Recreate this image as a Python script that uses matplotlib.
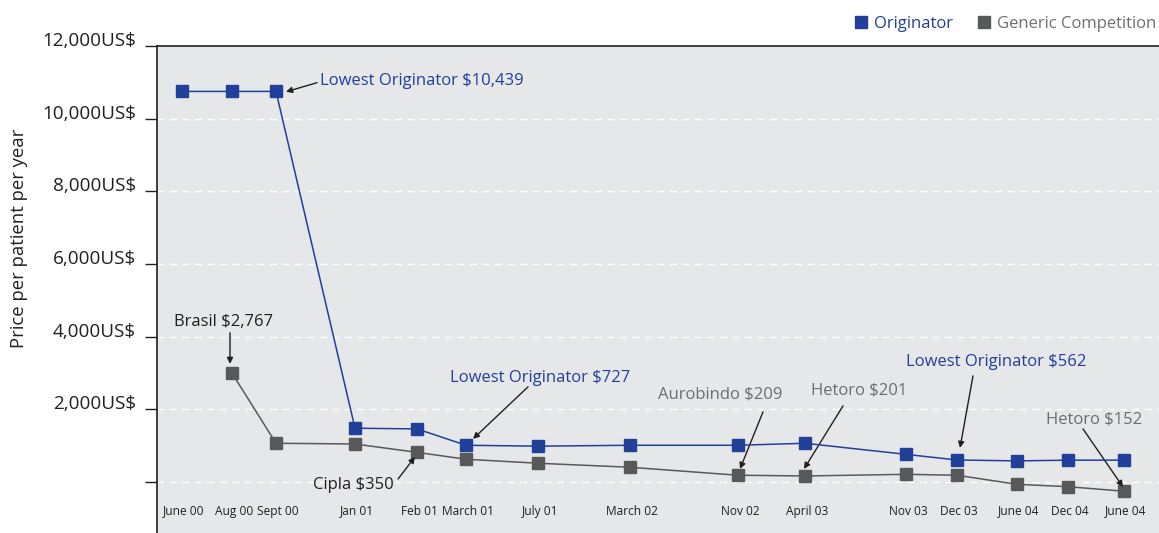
import matplotlib.pyplot as plt
from matplotlib.lines import Line2D

plt.rcParams['font.family'] = ['Open Sans', 'DejaVu Sans']

# categories and their horizontal placement on the original chart
dates = ['June 00', 'Aug 00', 'Sept 00', 'Jan 01', 'Feb 01', 'March 01', 'July 01',
         'March 02', 'Nov 02', 'April 03', 'Nov 03', 'Dec 03', 'June 04', 'Dec 04', 'June 04']
xpos = [182, 232, 276, 355, 417, 466, 538, 630, 738, 805, 906, 957, 1017, 1068, 1124]

# price per patient per year (US$)
originator = [10750, 10750, 10750, 1480, 1460, 1010, 985, 1010, 1010, 1065, 760, 605, 580, 600, 600]
generic = [None, 2995, 1065, 1045, 815, 625, 515, 405, 185, 165, 210, 185, -65, -130, -255]

yticks = [0, 2000, 4000, 6000, 8000, 10000, 12000]
ytick_labels = ['', '2,000US$', '4,000US$', '6,000US$', '8,000US$', '10,000US$', '12,000US$']

blue = '#21409a'
dgray = '#58595b'
tgray = '#6d6e71'
dark = '#231f20'

fig = plt.figure(figsize=(11.59, 5.33), dpi=100)
ax = fig.add_axes([157 / 1159, 0, 1 - 157 / 1159, (533 - 46) / 533])
ax.set_facecolor('#e6e7e8')

ax.set_xlim(157, 1159)
ax.set_ylim(-1405, 12000)

for y in yticks[:-1]:
    ax.axhline(y, color='white', lw=1, ls=(0, (5, 4)), zorder=1)

gx = [x for x, v in zip(xpos, generic) if v is not None]
gy = [v for v in generic if v is not None]
ax.plot(gx, gy, color=dgray, lw=1.1, marker='s', ms=9, mec=dgray, zorder=3)
ax.plot(xpos, originator, color=blue, lw=1.1, marker='s', ms=9, mec=blue, zorder=4)

ax.set_xticks([])
for x, d in zip(xpos, dates):
    ax.text(x + 2, -800, d, ha='center', va='center', fontsize=8.6, color=dark)

ax.set_yticks(yticks, ytick_labels)
ax.tick_params(axis='y', length=9, width=1, pad=6, labelsize=13.6, labelcolor=dark, color=dark)
for lab in ax.get_yticklabels():
    lab.set_va('baseline')

for side in ['right', 'bottom']:
    ax.spines[side].set_visible(False)
ax.spines['left'].set_color(dark)
ax.spines['top'].set_color(dark)
ax.spines['left'].set_linewidth(1.2)
ax.spines['top'].set_linewidth(1.2)

fig.text(19 / 1159, 1 - 238 / 533, 'Price per patient per year', rotation=90,
         ha='center', va='center', fontsize=13.3, color=dark)

arrow = dict(arrowstyle='-|>', color=dark, lw=1, mutation_scale=9, shrinkA=0, shrinkB=0)
notes = [
    ('Lowest Originator $10,439', (286, 10740), (320, 11047), 'left', blue),
    ('Brasil $2,767', (230, 3250), (224, 4408), 'center', dark),
    ('Cipla $350', (415, 690), (353, -83), 'center', dark),
    ('Lowest Originator $727', (473, 1185), (540, 2865), 'center', blue),
    ('Aurobindo $209', (740, 358), (720, 2397), 'center', tgray),
    ('Hetoro $201', (804, 358), (859, 2507), 'center', tgray),
    ('Lowest Originator $562', (960, 937), (996, 3306), 'center', blue),
    ('Hetoro $152', (1123, -138), (1094, 1708), 'center', tgray),
]
tails = [(317, 10990), (230, 4105), (398, 80), (528, 2617), (763, 1928), (843, 2094),
         (973, 2920), (1083, 1460)]
for (txt, tip, tpos, ha, col), tail in zip(notes, tails):
    ax.text(tpos[0], tpos[1], txt, ha=ha, va='center', fontsize=12, color=col)
    ax.annotate('', xy=tip, xytext=tail, arrowprops=arrow)

handles = [Line2D([], [], ls='', marker='s', ms=9, color=blue),
           Line2D([], [], ls='', marker='s', ms=9, color=dgray)]
leg = fig.legend(handles, ['Originator', 'Generic Competition'], loc='upper right',
                 bbox_to_anchor=(1.011, 0.998), ncol=2, frameon=False, fontsize=12,
                 handlelength=0.8, handletextpad=0.4, columnspacing=1.45)
for t, c in zip(leg.get_texts(), [blue, tgray]):
    t.set_color(c)

fig.savefig('out.png', dpi=100)
